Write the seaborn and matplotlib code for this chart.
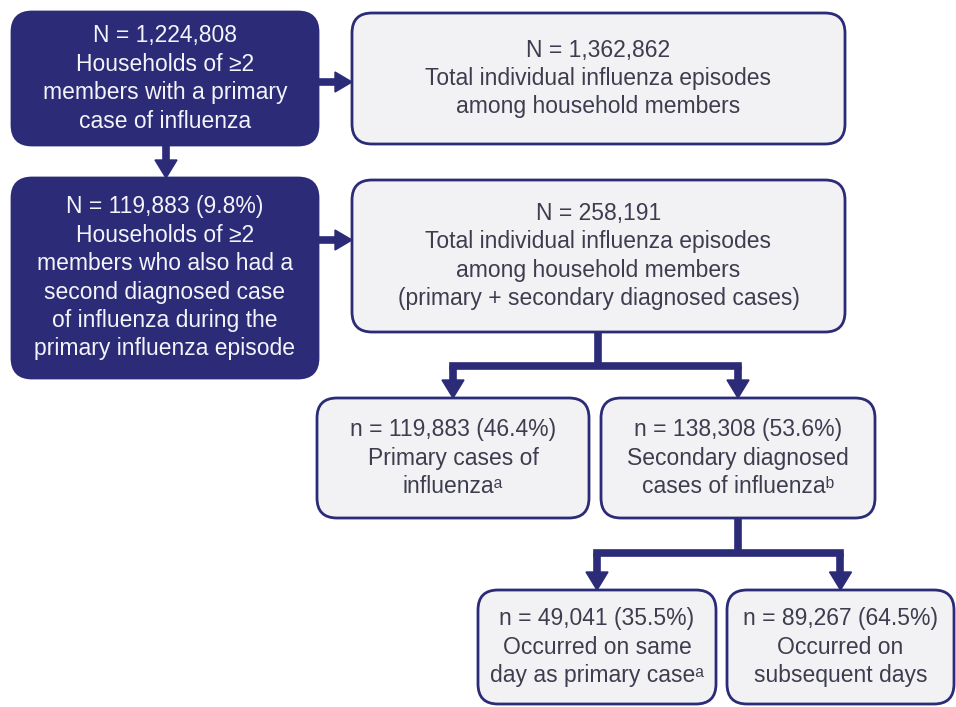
import matplotlib.pyplot as plt
import seaborn as sns
from matplotlib.patches import FancyBboxPatch, Polygon

sns.set_theme(style="white")
plt.rcParams['font.family'] = ['Liberation Sans', 'DejaVu Sans']

NAVY = '#2b2b78'
LIGHT = '#f2f2f4'
GREY_TXT = '#3d3d4f'
WHITE_TXT = '#f4f4fa'

# box texts
box_texts = [
    "N = 1,224,808\nHouseholds of \u22652\nmembers with a primary\ncase of influenza",
    "N = 1,362,862\nTotal individual influenza episodes\namong household members",
    "N = 119,883 (9.8%)\nHouseholds of \u22652\nmembers who also had a\nsecond diagnosed case\nof influenza during the\nprimary influenza episode",
    "N = 258,191\nTotal individual influenza episodes\namong household members\n(primary + secondary diagnosed cases)",
    "n = 119,883 (46.4%)\nPrimary cases of\ninfluenza\u1d43",
    "n = 138,308 (53.6%)\nSecondary diagnosed\ncases of influenza\u1d47",
    "n = 49,041 (35.5%)\nOccurred on same\nday as primary case\u1d43",
    "n = 89,267 (64.5%)\nOccurred on\nsubsequent days",
]
box_dark = [True, False, True, False, False, False, False, False]

# layout in pixels: x0, y0, x1, y1 (y down)
boxes = [
    (12, 12, 318, 145),
    (352, 13, 845, 144),
    (12, 178, 318, 378),
    (352, 180, 845, 332),
    (317, 398, 589, 518),
    (601, 398, 875, 518),
    (478, 590, 716, 704),
    (727, 590, 954, 704),
]

fig = plt.figure(figsize=(9.56, 7.07), dpi=100, facecolor='white')
ax = fig.add_axes([0, 0, 1, 1])
ax.set_xlim(0, 956)
ax.set_ylim(707, 0)
ax.axis('off')

R = 20
for (x0, y0, x1, y1), txt, dark in zip(boxes, box_texts, box_dark):
    patch = FancyBboxPatch((x0 + R, y0 + R), (x1 - x0) - 2 * R, (y1 - y0) - 2 * R,
                           boxstyle=f"round,pad={R}",
                           facecolor=NAVY if dark else LIGHT,
                           edgecolor=NAVY, linewidth=2.0, zorder=2)
    ax.add_patch(patch)
    ax.text((x0 + x1) / 2, (y0 + y1) / 2, txt, ha='center', va='center',
            fontsize=16.5, linespacing=1.3,
            color=WHITE_TXT if dark else GREY_TXT, zorder=3)

LW = 5.5


def center_x(i):
    return (boxes[i][0] + boxes[i][2]) / 2


def head(x, y, direction, half=11, length=18):
    # arrow tip at (x, y)
    if direction == 'down':
        pts = [(x - half, y - length), (x + half, y - length), (x, y)]
    else:
        pts = [(x - length, y - half), (x - length, y + half), (x, y)]
    ax.add_patch(Polygon(pts, closed=True, color=NAVY, zorder=4))


def seg(xs, ys, cap='butt'):
    ax.plot(xs, ys, color=NAVY, lw=LW, solid_capstyle=cap, zorder=1)


# horizontal arrows: box 0 -> 1, box 2 -> 3
for src, dst, y in [(0, 1, 82), (2, 3, 240)]:
    xa, xb = boxes[src][2], boxes[dst][0]
    seg([xa, xb - 14], [y, y])
    head(xb, y, 'right', half=10, length=17)

# vertical arrow box 0 -> 2
cx = 166
seg([cx, cx], [boxes[0][3], boxes[2][1] - 14])
head(cx, boxes[2][1], 'down')

# split connectors: source box -> two target boxes
for src, stem_x, y_bar, left, right in [(3, 598, 366, 4, 5), (5, 738, 553, 6, 7)]:
    seg([stem_x, stem_x], [boxes[src][3], y_bar])
    xl, xr = center_x(left), center_x(right)
    seg([xl, xr], [y_bar, y_bar], cap='projecting')
    for tgt, xx in ((left, xl), (right, xr)):
        y_tip = boxes[tgt][1]
        seg([xx, xx], [y_bar, y_tip - 14])
        head(xx, y_tip, 'down')

fig.savefig('out.png', dpi=100, facecolor='white')
